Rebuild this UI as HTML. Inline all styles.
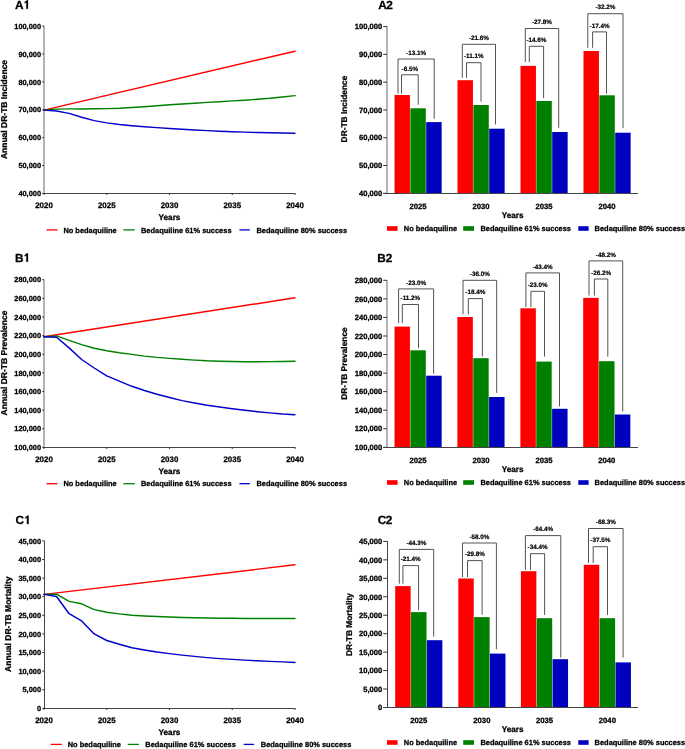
<!DOCTYPE html>
<html><head><meta charset="utf-8"><title>DR-TB bedaquiline projections</title>
<style>
html,body{margin:0;padding:0;background:#fff;}
body{width:685px;height:749px;overflow:hidden;}
svg{display:block;will-change:transform;}
text{font-family:"Liberation Sans", sans-serif;font-weight:bold;fill:#000;text-rendering:geometricPrecision;stroke:#000;stroke-width:0.28px;}
</style></head>
<body>
<svg width="685" height="749" viewBox="0 0 685 749">
<rect x="0" y="0" width="685" height="749" fill="#fff"/>
<text x="15" y="8.8" font-size="11.8" text-anchor="start">A</text>
<polygon points="26.34,8.8 27.99,8.8 27.99,0.35 26.81,0.35 26.22,1.01 24.69,1.9 24.69,3.25 26.34,2.55" fill="#000" stroke="#000" stroke-width="0.25"/>
<line x1="44" y1="25.8" x2="44" y2="193.5" stroke="#a6a6a6" stroke-width="1.7"/>
<line x1="42.2" y1="26.1" x2="44" y2="26.1" stroke="#333333" stroke-width="1"/>
<text x="41" y="28.8" font-size="7.4" text-anchor="end">100,000</text>
<line x1="42.2" y1="53.98" x2="44" y2="53.98" stroke="#333333" stroke-width="1"/>
<text x="41" y="56.68" font-size="7.4" text-anchor="end">90,000</text>
<line x1="42.2" y1="81.87" x2="44" y2="81.87" stroke="#333333" stroke-width="1"/>
<text x="41" y="84.57" font-size="7.4" text-anchor="end">80,000</text>
<line x1="42.2" y1="109.75" x2="44" y2="109.75" stroke="#333333" stroke-width="1"/>
<text x="41" y="112.45" font-size="7.4" text-anchor="end">70,000</text>
<line x1="42.2" y1="137.63" x2="44" y2="137.63" stroke="#333333" stroke-width="1"/>
<text x="41" y="140.33" font-size="7.4" text-anchor="end">60,000</text>
<line x1="42.2" y1="165.52" x2="44" y2="165.52" stroke="#333333" stroke-width="1"/>
<text x="41" y="168.22" font-size="7.4" text-anchor="end">50,000</text>
<line x1="42.2" y1="193.4" x2="44" y2="193.4" stroke="#333333" stroke-width="1"/>
<text x="41" y="196.1" font-size="7.4" text-anchor="end">40,000</text>
<line x1="43.5" y1="193.5" x2="295.5" y2="193.5" stroke="#444444" stroke-width="1.0"/>
<line x1="44" y1="193.5" x2="44" y2="195" stroke="#333333" stroke-width="1"/>
<text x="44" y="207.6" font-size="7.9" text-anchor="middle">2020</text>
<line x1="106.75" y1="193.5" x2="106.75" y2="195" stroke="#333333" stroke-width="1"/>
<text x="106.75" y="207.6" font-size="7.9" text-anchor="middle">2025</text>
<line x1="169.5" y1="193.5" x2="169.5" y2="195" stroke="#333333" stroke-width="1"/>
<text x="169.5" y="207.6" font-size="7.9" text-anchor="middle">2030</text>
<line x1="232.25" y1="193.5" x2="232.25" y2="195" stroke="#333333" stroke-width="1"/>
<text x="232.25" y="207.6" font-size="7.9" text-anchor="middle">2035</text>
<line x1="295" y1="193.5" x2="295" y2="195" stroke="#333333" stroke-width="1"/>
<text x="295" y="207.6" font-size="7.9" text-anchor="middle">2040</text>
<text x="169.5" y="220.4" font-size="8.2" text-anchor="middle">Years</text>
<text x="7" y="109.5" font-size="8.5" text-anchor="middle" transform="rotate(-90 7 109.5)">Annual DR-TB Incidence</text>
<line x1="46.5" y1="229.9" x2="57.5" y2="229.9" stroke="#ff0000" stroke-width="1.3"/>
<text x="63.4" y="232.5" font-size="7.45" text-anchor="start">No bedaquiline</text>
<line x1="123.4" y1="229.9" x2="134.6" y2="229.9" stroke="#008000" stroke-width="1.3"/>
<text x="141" y="232.5" font-size="7.45" text-anchor="start">Bedaquiline 61% success</text>
<line x1="239.4" y1="229.9" x2="249.8" y2="229.9" stroke="#0000c8" stroke-width="1.3"/>
<text x="256.5" y="232.5" font-size="7.45" text-anchor="start">Bedaquiline 80% success</text>
<polyline points="44,110.1 295,51.2" fill="none" stroke="#ff0000" stroke-width="1.45" stroke-linejoin="round" stroke-linecap="round"/>
<polyline points="44,110.1 56.55,109.1 69.1,108.9 81.65,108.9 94.2,108.8 106.75,108.6 119.3,108.2 131.85,107.5 144.4,106.7 156.95,105.8 169.5,104.8 182.05,104 194.6,103.2 207.15,102.4 219.7,101.7 232.25,100.9 244.8,100.2 257.35,99.3 269.9,98.3 282.45,97 295,95.6" fill="none" stroke="#008000" stroke-width="1.45" stroke-linejoin="round" stroke-linecap="round"/>
<polyline points="44,110.1 56.55,111 69.1,113.4 81.65,117.2 94.2,120.6 106.75,122.9 119.3,124.5 131.85,125.7 144.4,126.7 156.95,127.6 169.5,128.5 182.05,129.3 194.6,130 207.15,130.6 219.7,131.2 232.25,131.7 244.8,132.1 257.35,132.5 269.9,132.8 282.45,133 295,133.2" fill="none" stroke="#0000c8" stroke-width="1.45" stroke-linejoin="round" stroke-linecap="round"/>
<text x="378.3" y="8.8" font-size="11.8" text-anchor="start">A</text>
<text x="386.22" y="8.8" font-size="11.8" text-anchor="start">2</text>
<line x1="387" y1="26.3" x2="387" y2="193.5" stroke="#a6a6a6" stroke-width="1.7"/>
<line x1="383.2" y1="26.6" x2="387" y2="26.6" stroke="#333333" stroke-width="1"/>
<text x="382.3" y="29.35" font-size="7.6" text-anchor="end">100,000</text>
<line x1="383.2" y1="54.38" x2="387" y2="54.38" stroke="#333333" stroke-width="1"/>
<text x="382.3" y="57.13" font-size="7.6" text-anchor="end">90,000</text>
<line x1="383.2" y1="82.17" x2="387" y2="82.17" stroke="#333333" stroke-width="1"/>
<text x="382.3" y="84.92" font-size="7.6" text-anchor="end">80,000</text>
<line x1="383.2" y1="109.95" x2="387" y2="109.95" stroke="#333333" stroke-width="1"/>
<text x="382.3" y="112.7" font-size="7.6" text-anchor="end">70,000</text>
<line x1="383.2" y1="137.73" x2="387" y2="137.73" stroke="#333333" stroke-width="1"/>
<text x="382.3" y="140.48" font-size="7.6" text-anchor="end">60,000</text>
<line x1="383.2" y1="165.52" x2="387" y2="165.52" stroke="#333333" stroke-width="1"/>
<text x="382.3" y="168.27" font-size="7.6" text-anchor="end">50,000</text>
<line x1="383.2" y1="193.3" x2="387" y2="193.3" stroke="#333333" stroke-width="1"/>
<text x="382.3" y="196.05" font-size="7.6" text-anchor="end">40,000</text>
<rect x="394.5" y="95" width="15.45" height="98.5" fill="#ff0000"/>
<rect x="410.35" y="108.3" width="15.45" height="85.2" fill="#008000"/>
<rect x="426.2" y="122.1" width="15.45" height="71.4" fill="#0000bf"/>
<text x="418.07" y="209.25" font-size="7.7" text-anchor="middle">2025</text>
<rect x="457.5" y="80.2" width="15.45" height="113.3" fill="#ff0000"/>
<rect x="473.35" y="105" width="15.45" height="88.5" fill="#008000"/>
<rect x="489.2" y="128.7" width="15.45" height="64.8" fill="#0000bf"/>
<text x="481.07" y="209.25" font-size="7.7" text-anchor="middle">2030</text>
<rect x="520.5" y="65.9" width="15.45" height="127.6" fill="#ff0000"/>
<rect x="536.35" y="101" width="15.45" height="92.5" fill="#008000"/>
<rect x="552.2" y="132" width="15.45" height="61.5" fill="#0000bf"/>
<text x="544.07" y="209.25" font-size="7.7" text-anchor="middle">2035</text>
<rect x="583.5" y="51" width="15.45" height="142.5" fill="#ff0000"/>
<rect x="599.35" y="95.3" width="15.45" height="98.2" fill="#008000"/>
<rect x="615.2" y="132.7" width="15.45" height="60.8" fill="#0000bf"/>
<text x="607.07" y="209.25" font-size="7.7" text-anchor="middle">2040</text>
<line x1="383.2" y1="193.5" x2="638" y2="193.5" stroke="#444444" stroke-width="1.0"/>
<text x="512.6" y="218.1" font-size="8.2" text-anchor="middle">Years</text>
<text x="347.2" y="109" font-size="8.35" text-anchor="middle" transform="rotate(-90 347.2 109)">DR-TB Incidence</text>
<polyline points="398,93.5 398,59 434.2,59 434.2,118.8" fill="none" stroke="#404040" stroke-width="0.9"/>
<text x="416.1" y="54.7" font-size="6.3" text-anchor="middle" style="stroke-width:0.2px">-13.1%</text>
<polyline points="401.5,93.5 401.5,74.8 418.2,74.8 418.2,104.7" fill="none" stroke="#404040" stroke-width="0.9"/>
<text x="409.85" y="70.5" font-size="6.3" text-anchor="middle" style="stroke-width:0.2px">-6.5%</text>
<polyline points="462.3,77.9 462.3,44.3 495.5,44.3 495.5,124.4" fill="none" stroke="#404040" stroke-width="0.9"/>
<text x="478.9" y="40" font-size="6.3" text-anchor="middle" style="stroke-width:0.2px">-21.6%</text>
<polyline points="466.5,77.9 466.5,62.7 481,62.7 481,101.6" fill="none" stroke="#404040" stroke-width="0.9"/>
<text x="473.75" y="58.4" font-size="6.3" text-anchor="middle" style="stroke-width:0.2px">-11.1%</text>
<polyline points="525.3,62.1 525.3,28.5 558.7,28.5 558.7,127.8" fill="none" stroke="#404040" stroke-width="0.9"/>
<text x="542" y="24.2" font-size="6.3" text-anchor="middle" style="stroke-width:0.2px">-27.8%</text>
<polyline points="529.3,62.1 529.3,46.3 543.6,46.3 543.6,98.2" fill="none" stroke="#404040" stroke-width="0.9"/>
<text x="536.45" y="42" font-size="6.3" text-anchor="middle" style="stroke-width:0.2px">-14.6%</text>
<polyline points="587.8,47.8 587.8,13.7 623,13.7 623,128.2" fill="none" stroke="#404040" stroke-width="0.9"/>
<text x="605.4" y="9.4" font-size="6.3" text-anchor="middle" style="stroke-width:0.2px">-32.2%</text>
<polyline points="592.6,47.8 592.6,31.9 606.5,31.9 606.5,93.5" fill="none" stroke="#404040" stroke-width="0.9"/>
<text x="599.55" y="27.6" font-size="6.3" text-anchor="middle" style="stroke-width:0.2px">-17.4%</text>
<rect x="387" y="226.2" width="10.6" height="4.6" fill="#ff0000"/>
<text x="403.8" y="231.1" font-size="7.45" text-anchor="start">No bedaquiline</text>
<rect x="463.2" y="226.2" width="10.8" height="4.6" fill="#008000"/>
<text x="480.4" y="231.1" font-size="7.45" text-anchor="start">Bedaquiline 61% success</text>
<rect x="578.3" y="226.2" width="10.3" height="4.6" fill="#0000bf"/>
<text x="594.6" y="231.1" font-size="7.45" text-anchor="start">Bedaquiline 80% success</text>
<text x="15" y="261.8" font-size="11.8" text-anchor="start">B</text>
<polygon points="26.34,261.8 27.99,261.8 27.99,253.35 26.81,253.35 26.22,254.01 24.69,254.9 24.69,256.25 26.34,255.55" fill="#000" stroke="#000" stroke-width="0.25"/>
<line x1="44" y1="279.4" x2="44" y2="447.5" stroke="#a6a6a6" stroke-width="1.7"/>
<line x1="42.2" y1="279.7" x2="44" y2="279.7" stroke="#333333" stroke-width="1"/>
<text x="41" y="282.4" font-size="7.4" text-anchor="end">280,000</text>
<line x1="42.2" y1="298.33" x2="44" y2="298.33" stroke="#333333" stroke-width="1"/>
<text x="41" y="301.03" font-size="7.4" text-anchor="end">260,000</text>
<line x1="42.2" y1="316.97" x2="44" y2="316.97" stroke="#333333" stroke-width="1"/>
<text x="41" y="319.67" font-size="7.4" text-anchor="end">240,000</text>
<line x1="42.2" y1="335.6" x2="44" y2="335.6" stroke="#333333" stroke-width="1"/>
<text x="41" y="338.3" font-size="7.4" text-anchor="end">220,000</text>
<line x1="42.2" y1="354.23" x2="44" y2="354.23" stroke="#333333" stroke-width="1"/>
<text x="41" y="356.93" font-size="7.4" text-anchor="end">200,000</text>
<line x1="42.2" y1="372.87" x2="44" y2="372.87" stroke="#333333" stroke-width="1"/>
<text x="41" y="375.57" font-size="7.4" text-anchor="end">180,000</text>
<line x1="42.2" y1="391.5" x2="44" y2="391.5" stroke="#333333" stroke-width="1"/>
<text x="41" y="394.2" font-size="7.4" text-anchor="end">160,000</text>
<line x1="42.2" y1="410.13" x2="44" y2="410.13" stroke="#333333" stroke-width="1"/>
<text x="41" y="412.83" font-size="7.4" text-anchor="end">140,000</text>
<line x1="42.2" y1="428.77" x2="44" y2="428.77" stroke="#333333" stroke-width="1"/>
<text x="41" y="431.47" font-size="7.4" text-anchor="end">120,000</text>
<line x1="42.2" y1="447.4" x2="44" y2="447.4" stroke="#333333" stroke-width="1"/>
<text x="41" y="450.1" font-size="7.4" text-anchor="end">100,000</text>
<line x1="43.5" y1="447.5" x2="295.5" y2="447.5" stroke="#444444" stroke-width="1.0"/>
<line x1="44" y1="447.5" x2="44" y2="449" stroke="#333333" stroke-width="1"/>
<text x="44" y="461.6" font-size="7.9" text-anchor="middle">2020</text>
<line x1="106.75" y1="447.5" x2="106.75" y2="449" stroke="#333333" stroke-width="1"/>
<text x="106.75" y="461.6" font-size="7.9" text-anchor="middle">2025</text>
<line x1="169.5" y1="447.5" x2="169.5" y2="449" stroke="#333333" stroke-width="1"/>
<text x="169.5" y="461.6" font-size="7.9" text-anchor="middle">2030</text>
<line x1="232.25" y1="447.5" x2="232.25" y2="449" stroke="#333333" stroke-width="1"/>
<text x="232.25" y="461.6" font-size="7.9" text-anchor="middle">2035</text>
<line x1="295" y1="447.5" x2="295" y2="449" stroke="#333333" stroke-width="1"/>
<text x="295" y="461.6" font-size="7.9" text-anchor="middle">2040</text>
<text x="169.5" y="474.4" font-size="8.2" text-anchor="middle">Years</text>
<text x="6.7" y="363" font-size="8.5" text-anchor="middle" transform="rotate(-90 6.7 363)">Annual DR-TB Prevalence</text>
<line x1="46.5" y1="483.7" x2="57.5" y2="483.7" stroke="#ff0000" stroke-width="1.3"/>
<text x="63.4" y="486.3" font-size="7.45" text-anchor="start">No bedaquiline</text>
<line x1="123.4" y1="483.7" x2="134.6" y2="483.7" stroke="#008000" stroke-width="1.3"/>
<text x="141" y="486.3" font-size="7.45" text-anchor="start">Bedaquiline 61% success</text>
<line x1="239.4" y1="483.7" x2="249.8" y2="483.7" stroke="#0000c8" stroke-width="1.3"/>
<text x="256.5" y="486.3" font-size="7.45" text-anchor="start">Bedaquiline 80% success</text>
<polyline points="44,336.7 295,297.8" fill="none" stroke="#ff0000" stroke-width="1.45" stroke-linejoin="round" stroke-linecap="round"/>
<polyline points="44,336.7 56.55,335.9 69.1,340.4 81.65,344.6 94.2,348.2 106.75,350.7 119.3,352.8 131.85,354.4 144.4,356.1 156.95,357.4 169.5,358.4 182.05,359.3 194.6,360.1 207.15,360.8 219.7,361.2 232.25,361.5 244.8,361.7 257.35,361.7 269.9,361.6 282.45,361.5 295,361.3" fill="none" stroke="#008000" stroke-width="1.45" stroke-linejoin="round" stroke-linecap="round"/>
<polyline points="44,336.7 56.55,337.3 69.1,347.9 81.65,359.5 94.2,368 106.75,375.9 119.3,381.2 131.85,386.3 144.4,390.5 156.95,394.2 169.5,397.5 182.05,400.6 194.6,403 207.15,405.2 219.7,407 232.25,408.7 244.8,410.3 257.35,411.7 269.9,412.9 282.45,414 295,414.8" fill="none" stroke="#0000c8" stroke-width="1.45" stroke-linejoin="round" stroke-linecap="round"/>
<text x="377.2" y="262.3" font-size="11.8" text-anchor="start">B</text>
<text x="385.72" y="262.3" font-size="11.8" text-anchor="start">2</text>
<line x1="387" y1="280" x2="387" y2="447.5" stroke="#a6a6a6" stroke-width="1.7"/>
<line x1="383.2" y1="280.3" x2="387" y2="280.3" stroke="#333333" stroke-width="1"/>
<text x="382.3" y="283.05" font-size="7.6" text-anchor="end">280,000</text>
<line x1="383.2" y1="298.86" x2="387" y2="298.86" stroke="#333333" stroke-width="1"/>
<text x="382.3" y="301.61" font-size="7.6" text-anchor="end">260,000</text>
<line x1="383.2" y1="317.41" x2="387" y2="317.41" stroke="#333333" stroke-width="1"/>
<text x="382.3" y="320.16" font-size="7.6" text-anchor="end">240,000</text>
<line x1="383.2" y1="335.97" x2="387" y2="335.97" stroke="#333333" stroke-width="1"/>
<text x="382.3" y="338.72" font-size="7.6" text-anchor="end">220,000</text>
<line x1="383.2" y1="354.52" x2="387" y2="354.52" stroke="#333333" stroke-width="1"/>
<text x="382.3" y="357.27" font-size="7.6" text-anchor="end">200,000</text>
<line x1="383.2" y1="373.08" x2="387" y2="373.08" stroke="#333333" stroke-width="1"/>
<text x="382.3" y="375.83" font-size="7.6" text-anchor="end">180,000</text>
<line x1="383.2" y1="391.63" x2="387" y2="391.63" stroke="#333333" stroke-width="1"/>
<text x="382.3" y="394.38" font-size="7.6" text-anchor="end">160,000</text>
<line x1="383.2" y1="410.19" x2="387" y2="410.19" stroke="#333333" stroke-width="1"/>
<text x="382.3" y="412.94" font-size="7.6" text-anchor="end">140,000</text>
<line x1="383.2" y1="428.74" x2="387" y2="428.74" stroke="#333333" stroke-width="1"/>
<text x="382.3" y="431.49" font-size="7.6" text-anchor="end">120,000</text>
<line x1="383.2" y1="447.3" x2="387" y2="447.3" stroke="#333333" stroke-width="1"/>
<text x="382.3" y="450.05" font-size="7.6" text-anchor="end">100,000</text>
<rect x="394.5" y="326.6" width="15.45" height="120.9" fill="#ff0000"/>
<rect x="410.35" y="350.3" width="15.45" height="97.2" fill="#008000"/>
<rect x="426.2" y="375.7" width="15.45" height="71.8" fill="#0000bf"/>
<text x="418.07" y="463.25" font-size="7.7" text-anchor="middle">2025</text>
<rect x="457.4" y="317" width="15.45" height="130.5" fill="#ff0000"/>
<rect x="473.25" y="358.2" width="15.45" height="89.3" fill="#008000"/>
<rect x="489.1" y="397" width="15.45" height="50.5" fill="#0000bf"/>
<text x="480.97" y="463.25" font-size="7.7" text-anchor="middle">2030</text>
<rect x="520.4" y="308.3" width="15.45" height="139.2" fill="#ff0000"/>
<rect x="536.25" y="361.6" width="15.45" height="85.9" fill="#008000"/>
<rect x="552.1" y="408.8" width="15.45" height="38.7" fill="#0000bf"/>
<text x="543.98" y="463.25" font-size="7.7" text-anchor="middle">2035</text>
<rect x="583.2" y="297.9" width="15.45" height="149.6" fill="#ff0000"/>
<rect x="599.05" y="361.2" width="15.45" height="86.3" fill="#008000"/>
<rect x="614.9" y="414.5" width="15.45" height="33" fill="#0000bf"/>
<text x="606.77" y="463.25" font-size="7.7" text-anchor="middle">2040</text>
<line x1="383.2" y1="447.5" x2="638" y2="447.5" stroke="#444444" stroke-width="1.0"/>
<text x="512.6" y="472.1" font-size="8.2" text-anchor="middle">Years</text>
<text x="347.1" y="363.5" font-size="8.35" text-anchor="middle" transform="rotate(-90 347.1 363.5)">DR-TB Prevalence</text>
<polyline points="398.6,323.1 398.6,288.9 433.6,288.9 433.6,373.6" fill="none" stroke="#404040" stroke-width="0.9"/>
<text x="416.1" y="284.6" font-size="6.3" text-anchor="middle" style="stroke-width:0.2px">-23.0%</text>
<polyline points="402.3,323.1 402.3,304.5 418.5,304.5 418.5,348.2" fill="none" stroke="#404040" stroke-width="0.9"/>
<text x="410.4" y="300.2" font-size="6.3" text-anchor="middle" style="stroke-width:0.2px">-11.2%</text>
<polyline points="463,314.4 463,280.3 496.7,280.3 496.7,392.9" fill="none" stroke="#404040" stroke-width="0.9"/>
<text x="479.85" y="276" font-size="6.3" text-anchor="middle" style="stroke-width:0.2px">-36.0%</text>
<polyline points="468.3,314.4 468.3,298.6 482.4,298.6 482.4,356.4" fill="none" stroke="#404040" stroke-width="0.9"/>
<text x="475.35" y="294.3" font-size="6.3" text-anchor="middle" style="stroke-width:0.2px">-18.4%</text>
<polyline points="525.9,307 525.9,272.9 559.5,272.9 559.5,406.5" fill="none" stroke="#404040" stroke-width="0.9"/>
<text x="542.7" y="268.6" font-size="6.3" text-anchor="middle" style="stroke-width:0.2px">-43.4%</text>
<polyline points="530.9,307 530.9,291.3 544.5,291.3 544.5,356.6" fill="none" stroke="#404040" stroke-width="0.9"/>
<text x="537.7" y="287" font-size="6.3" text-anchor="middle" style="stroke-width:0.2px">-23.0%</text>
<polyline points="589,295.6 589,260.9 622.7,260.9 622.7,411.4" fill="none" stroke="#404040" stroke-width="0.9"/>
<text x="605.85" y="256.6" font-size="6.3" text-anchor="middle" style="stroke-width:0.2px">-48.2%</text>
<polyline points="594.4,295.6 594.4,279 607.8,279 607.8,356.6" fill="none" stroke="#404040" stroke-width="0.9"/>
<text x="601.1" y="274.7" font-size="6.3" text-anchor="middle" style="stroke-width:0.2px">-26.2%</text>
<rect x="387" y="480.2" width="10.6" height="4.6" fill="#ff0000"/>
<text x="403.8" y="485.1" font-size="7.45" text-anchor="start">No bedaquiline</text>
<rect x="463.2" y="480.2" width="10.8" height="4.6" fill="#008000"/>
<text x="480.4" y="485.1" font-size="7.45" text-anchor="start">Bedaquiline 61% success</text>
<rect x="578.3" y="480.2" width="10.3" height="4.6" fill="#0000bf"/>
<text x="594.6" y="485.1" font-size="7.45" text-anchor="start">Bedaquiline 80% success</text>
<text x="15.5" y="524" font-size="11.8" text-anchor="start">C</text>
<polygon points="26.94,524 28.59,524 28.59,515.55 27.41,515.55 26.82,516.21 25.29,517.1 25.29,518.45 26.94,517.75" fill="#000" stroke="#000" stroke-width="0.25"/>
<line x1="44.5" y1="540.6" x2="44.5" y2="708.5" stroke="#444444" stroke-width="1.0"/>
<line x1="42.2" y1="540.9" x2="44" y2="540.9" stroke="#333333" stroke-width="1"/>
<text x="41" y="543.6" font-size="7.4" text-anchor="end">45,000</text>
<line x1="42.2" y1="559.5" x2="44" y2="559.5" stroke="#333333" stroke-width="1"/>
<text x="41" y="562.2" font-size="7.4" text-anchor="end">40,000</text>
<line x1="42.2" y1="578.1" x2="44" y2="578.1" stroke="#333333" stroke-width="1"/>
<text x="41" y="580.8" font-size="7.4" text-anchor="end">35,000</text>
<line x1="42.2" y1="596.7" x2="44" y2="596.7" stroke="#333333" stroke-width="1"/>
<text x="41" y="599.4" font-size="7.4" text-anchor="end">30,000</text>
<line x1="42.2" y1="615.3" x2="44" y2="615.3" stroke="#333333" stroke-width="1"/>
<text x="41" y="618" font-size="7.4" text-anchor="end">25,000</text>
<line x1="42.2" y1="633.9" x2="44" y2="633.9" stroke="#333333" stroke-width="1"/>
<text x="41" y="636.6" font-size="7.4" text-anchor="end">20,000</text>
<line x1="42.2" y1="652.5" x2="44" y2="652.5" stroke="#333333" stroke-width="1"/>
<text x="41" y="655.2" font-size="7.4" text-anchor="end">15,000</text>
<line x1="42.2" y1="671.1" x2="44" y2="671.1" stroke="#333333" stroke-width="1"/>
<text x="41" y="673.8" font-size="7.4" text-anchor="end">10,000</text>
<line x1="42.2" y1="689.7" x2="44" y2="689.7" stroke="#333333" stroke-width="1"/>
<text x="41" y="692.4" font-size="7.4" text-anchor="end">5,000</text>
<line x1="42.2" y1="708.3" x2="44" y2="708.3" stroke="#333333" stroke-width="1"/>
<text x="41" y="711" font-size="7.4" text-anchor="end">0</text>
<line x1="43.5" y1="708.5" x2="295.5" y2="708.5" stroke="#444444" stroke-width="1.0"/>
<line x1="44" y1="708.5" x2="44" y2="710" stroke="#333333" stroke-width="1"/>
<text x="44" y="722.6" font-size="7.9" text-anchor="middle">2020</text>
<line x1="106.75" y1="708.5" x2="106.75" y2="710" stroke="#333333" stroke-width="1"/>
<text x="106.75" y="722.6" font-size="7.9" text-anchor="middle">2025</text>
<line x1="169.5" y1="708.5" x2="169.5" y2="710" stroke="#333333" stroke-width="1"/>
<text x="169.5" y="722.6" font-size="7.9" text-anchor="middle">2030</text>
<line x1="232.25" y1="708.5" x2="232.25" y2="710" stroke="#333333" stroke-width="1"/>
<text x="232.25" y="722.6" font-size="7.9" text-anchor="middle">2035</text>
<line x1="295" y1="708.5" x2="295" y2="710" stroke="#333333" stroke-width="1"/>
<text x="295" y="722.6" font-size="7.9" text-anchor="middle">2040</text>
<text x="169.5" y="735.4" font-size="8.2" text-anchor="middle">Years</text>
<text x="10.8" y="624.2" font-size="8.5" text-anchor="middle" transform="rotate(-90 10.8 624.2)">Annual DR-TB Mortality</text>
<line x1="50.8" y1="744.4" x2="61.8" y2="744.4" stroke="#ff0000" stroke-width="1.3"/>
<text x="67.7" y="747" font-size="7.45" text-anchor="start">No bedaquiline</text>
<line x1="127.7" y1="744.4" x2="138.9" y2="744.4" stroke="#008000" stroke-width="1.3"/>
<text x="145.3" y="747" font-size="7.45" text-anchor="start">Bedaquiline 61% success</text>
<line x1="243.7" y1="744.4" x2="254.1" y2="744.4" stroke="#0000c8" stroke-width="1.3"/>
<text x="260.8" y="747" font-size="7.45" text-anchor="start">Bedaquiline 80% success</text>
<polyline points="44,594.4 295,564.8" fill="none" stroke="#ff0000" stroke-width="1.45" stroke-linejoin="round" stroke-linecap="round"/>
<polyline points="44,594.4 56.55,594.2 69.1,601.4 81.65,603.8 94.2,609.6 106.75,612.3 119.3,613.9 131.85,615.3 144.4,616 156.95,616.5 169.5,617 182.05,617.5 194.6,617.8 207.15,618 219.7,618.2 232.25,618.3 244.8,618.4 257.35,618.4 269.9,618.5 282.45,618.5 295,618.5" fill="none" stroke="#008000" stroke-width="1.45" stroke-linejoin="round" stroke-linecap="round"/>
<polyline points="44,594.4 56.55,596.5 69.1,613.7 81.65,620.9 94.2,633.9 106.75,640.5 119.3,644.2 131.85,647.8 144.4,650 156.95,652 169.5,653.6 182.05,655.1 194.6,656.4 207.15,657.6 219.7,658.6 232.25,659.4 244.8,660.1 257.35,660.8 269.9,661.4 282.45,661.9 295,662.5" fill="none" stroke="#0000c8" stroke-width="1.45" stroke-linejoin="round" stroke-linecap="round"/>
<text x="377.7" y="523.9" font-size="11.8" text-anchor="start">C</text>
<text x="385.82" y="523.9" font-size="11.8" text-anchor="start">2</text>
<line x1="387.5" y1="541.1" x2="387.5" y2="707.5" stroke="#444444" stroke-width="1.0"/>
<line x1="383.2" y1="541.4" x2="387" y2="541.4" stroke="#333333" stroke-width="1"/>
<text x="382.3" y="544.15" font-size="7.6" text-anchor="end">45,000</text>
<line x1="383.2" y1="559.86" x2="387" y2="559.86" stroke="#333333" stroke-width="1"/>
<text x="382.3" y="562.61" font-size="7.6" text-anchor="end">40,000</text>
<line x1="383.2" y1="578.31" x2="387" y2="578.31" stroke="#333333" stroke-width="1"/>
<text x="382.3" y="581.06" font-size="7.6" text-anchor="end">35,000</text>
<line x1="383.2" y1="596.77" x2="387" y2="596.77" stroke="#333333" stroke-width="1"/>
<text x="382.3" y="599.52" font-size="7.6" text-anchor="end">30,000</text>
<line x1="383.2" y1="615.22" x2="387" y2="615.22" stroke="#333333" stroke-width="1"/>
<text x="382.3" y="617.97" font-size="7.6" text-anchor="end">25,000</text>
<line x1="383.2" y1="633.68" x2="387" y2="633.68" stroke="#333333" stroke-width="1"/>
<text x="382.3" y="636.43" font-size="7.6" text-anchor="end">20,000</text>
<line x1="383.2" y1="652.13" x2="387" y2="652.13" stroke="#333333" stroke-width="1"/>
<text x="382.3" y="654.88" font-size="7.6" text-anchor="end">15,000</text>
<line x1="383.2" y1="670.59" x2="387" y2="670.59" stroke="#333333" stroke-width="1"/>
<text x="382.3" y="673.34" font-size="7.6" text-anchor="end">10,000</text>
<line x1="383.2" y1="689.04" x2="387" y2="689.04" stroke="#333333" stroke-width="1"/>
<text x="382.3" y="691.79" font-size="7.6" text-anchor="end">5,000</text>
<line x1="383.2" y1="707.5" x2="387" y2="707.5" stroke="#333333" stroke-width="1"/>
<text x="382.3" y="710.25" font-size="7.6" text-anchor="end">0</text>
<rect x="395.2" y="586.1" width="15.45" height="121.4" fill="#ff0000"/>
<rect x="411.05" y="612.1" width="15.45" height="95.4" fill="#008000"/>
<rect x="426.9" y="640.2" width="15.45" height="67.3" fill="#0000bf"/>
<text x="418.77" y="723.25" font-size="7.7" text-anchor="middle">2025</text>
<rect x="458.3" y="578.5" width="15.45" height="129" fill="#ff0000"/>
<rect x="474.15" y="617.1" width="15.45" height="90.4" fill="#008000"/>
<rect x="490" y="653.6" width="15.45" height="53.9" fill="#0000bf"/>
<text x="481.88" y="723.25" font-size="7.7" text-anchor="middle">2030</text>
<rect x="520.9" y="571.2" width="15.45" height="136.3" fill="#ff0000"/>
<rect x="536.75" y="618.2" width="15.45" height="89.3" fill="#008000"/>
<rect x="552.6" y="659.2" width="15.45" height="48.3" fill="#0000bf"/>
<text x="544.48" y="723.25" font-size="7.7" text-anchor="middle">2035</text>
<rect x="583.8" y="564.8" width="15.45" height="142.7" fill="#ff0000"/>
<rect x="599.65" y="618.2" width="15.45" height="89.3" fill="#008000"/>
<rect x="615.5" y="662.4" width="15.45" height="45.1" fill="#0000bf"/>
<text x="607.38" y="723.25" font-size="7.7" text-anchor="middle">2040</text>
<line x1="383.2" y1="707.5" x2="638" y2="707.5" stroke="#444444" stroke-width="1.0"/>
<text x="512.6" y="732.1" font-size="8.2" text-anchor="middle">Years</text>
<text x="351.5" y="624.5" font-size="8.35" text-anchor="middle" transform="rotate(-90 351.5 624.5)">DR-TB Mortality</text>
<polyline points="399.3,583.7 399.3,549.4 433.7,549.4 433.7,636.6" fill="none" stroke="#404040" stroke-width="0.9"/>
<text x="416.5" y="545.1" font-size="6.3" text-anchor="middle" style="stroke-width:0.2px">-44.3%</text>
<polyline points="402.9,583.7 402.9,565.6 418.6,565.6 418.6,610.3" fill="none" stroke="#404040" stroke-width="0.9"/>
<text x="410.75" y="561.3" font-size="6.3" text-anchor="middle" style="stroke-width:0.2px">-21.4%</text>
<polyline points="462.5,577 462.5,543 496.4,543 496.4,649.3" fill="none" stroke="#404040" stroke-width="0.9"/>
<text x="479.45" y="538.7" font-size="6.3" text-anchor="middle" style="stroke-width:0.2px">-58.0%</text>
<polyline points="467.5,577 467.5,560.6 482.1,560.6 482.1,614.7" fill="none" stroke="#404040" stroke-width="0.9"/>
<text x="474.8" y="556.3" font-size="6.3" text-anchor="middle" style="stroke-width:0.2px">-29.8%</text>
<polyline points="525.4,569.9 525.4,535.6 560.8,535.6 560.8,657.5" fill="none" stroke="#404040" stroke-width="0.9"/>
<text x="543.1" y="531.3" font-size="6.3" text-anchor="middle" style="stroke-width:0.2px">-64.4%</text>
<polyline points="530.5,569.9 530.5,553.7 544.6,553.7 544.6,614.9" fill="none" stroke="#404040" stroke-width="0.9"/>
<text x="537.55" y="549.4" font-size="6.3" text-anchor="middle" style="stroke-width:0.2px">-34.4%</text>
<polyline points="588.5,562.9 588.5,528.5 623.1,528.5 623.1,657.5" fill="none" stroke="#404040" stroke-width="0.9"/>
<text x="605.8" y="524.2" font-size="6.3" text-anchor="middle" style="stroke-width:0.2px">-68.3%</text>
<polyline points="593.2,562.9 593.2,546.7 607.5,546.7 607.5,614.9" fill="none" stroke="#404040" stroke-width="0.9"/>
<text x="600.35" y="542.4" font-size="6.3" text-anchor="middle" style="stroke-width:0.2px">-37.5%</text>
<rect x="387" y="740.2" width="10.6" height="4.6" fill="#ff0000"/>
<text x="403.8" y="745.1" font-size="7.45" text-anchor="start">No bedaquiline</text>
<rect x="463.2" y="740.2" width="10.8" height="4.6" fill="#008000"/>
<text x="480.4" y="745.1" font-size="7.45" text-anchor="start">Bedaquiline 61% success</text>
<rect x="578.3" y="740.2" width="10.3" height="4.6" fill="#0000bf"/>
<text x="594.6" y="745.1" font-size="7.45" text-anchor="start">Bedaquiline 80% success</text>
</svg>
</body></html>
